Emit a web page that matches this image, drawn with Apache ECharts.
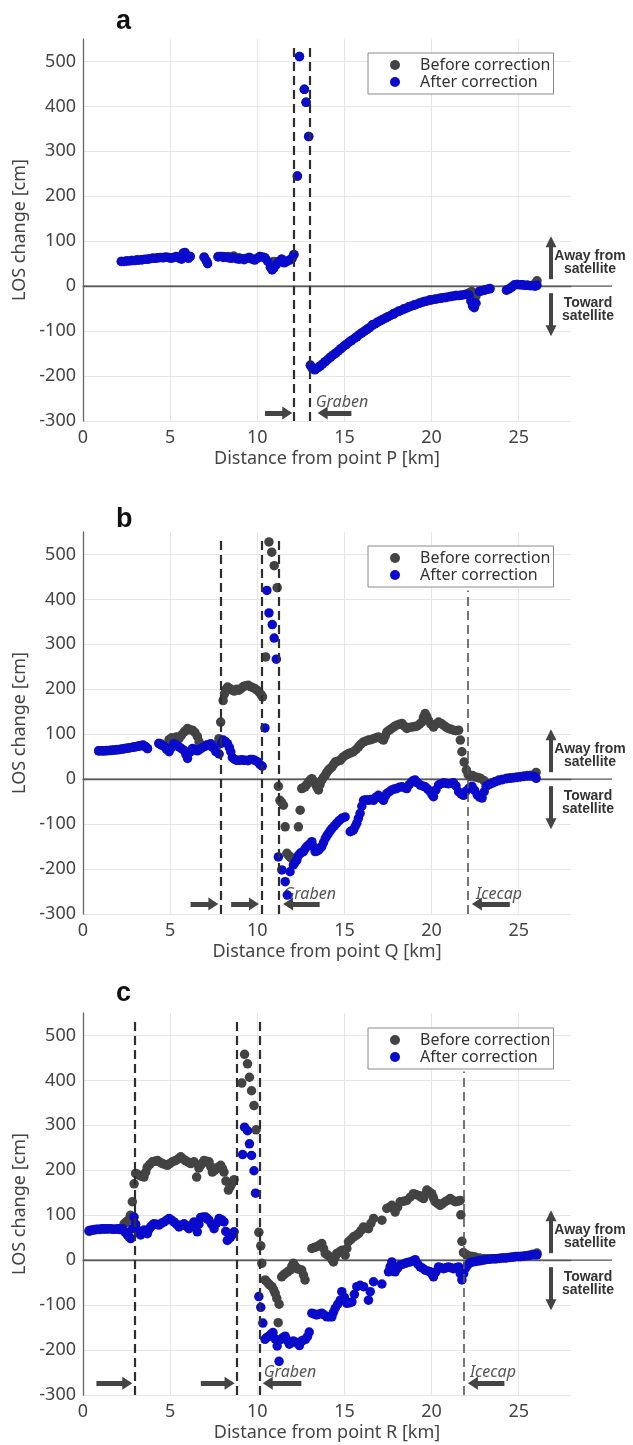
<!DOCTYPE html>
<html>
<head>
<meta charset="utf-8">
<script src="https://cdn.jsdelivr.net/npm/echarts@6/dist/echarts.min.js"></script>
<style>
  html, body { margin: 0; padding: 0; background: #fff; }
  #chart { width: 633px; height: 1445px; }
</style>
</head>
<body>
<div id="chart"></div>
<script>
// LOS change profiles: [distance km, LOS change cm]

// Profile a (from point P)
const aBefore = [
  [2.2,55],[2.5,56],[2.8,57],[3.1,58],[3.4,59],[3.7,60],[4.0,62],[4.3,63],[4.6,64],[4.9,64],[5.2,64],[5.5,63],[5.75,74],[5.95,68],[6.15,66],
  [6.95,65],[7.1,55],
  [7.75,66],[8.05,66],[8.35,66],[8.65,67],[8.95,63],[9.25,61],[9.55,64],[9.85,60],[10.15,66],[10.45,63],[10.75,50],[10.95,55],[11.1,54],[11.4,60],[11.7,56],[12.0,63],[12.1,70],
  [12.3,245],[12.42,511],[12.7,438],[12.8,409],[12.95,333],
  [13.05,-176],[13.3,-185],[13.6,-178],[13.9,-168],[14.2,-158],[14.5,-149],[14.8,-139],[15.1,-130],[15.4,-121],[15.7,-113],[16.0,-104],[16.3,-96],[16.6,-87],[16.9,-80],[17.2,-74],[17.5,-68],[17.8,-62],[18.1,-56],[18.4,-51],[18.7,-46],[19.0,-42],[19.3,-38],[19.6,-34],[19.9,-31],[20.2,-29],[20.5,-27],[20.8,-25],[21.1,-23],[21.4,-21],[21.7,-20],[22.0,-18],[22.2,-14],[22.3,-12],[22.4,-16],[22.55,-22],
  [22.75,-11],[23.05,-8],[23.35,-5],
  [24.3,-8],[24.6,-2],[24.9,4],[25.2,3],[25.5,2],[25.8,2],[25.95,6],[26.05,12]
];
const aAfter = [
  [2.2,55],[2.35,55],[2.5,56],[2.65,56],[2.8,57],[2.95,57],[3.1,58],[3.25,58],[3.4,59],[3.55,60],[3.7,60],[3.85,61],[4.0,62],[4.15,62],[4.3,63],[4.45,64],[4.6,63],[4.75,65],[4.9,64],[5.05,62],[5.2,64],[5.35,66],[5.5,63],[5.65,60],[5.75,72],[5.85,75],[5.95,68],[6.05,62],[6.15,66],
  [6.95,64],[7.05,58],[7.15,50],
  [7.75,65],[7.9,66],[8.05,64],[8.2,65],[8.35,63],[8.5,62],[8.65,64],[8.8,61],[8.95,60],[9.1,61],[9.25,59],[9.4,62],[9.55,64],[9.7,60],[9.85,58],[10.0,62],[10.15,66],[10.3,65],[10.45,62],[10.6,55],[10.75,42],[10.85,36],[10.95,40],[11.1,48],[11.25,55],[11.4,60],[11.55,52],[11.7,55],[11.85,58],[12.0,62],[12.1,70],
  [12.3,245],[12.42,511],[12.7,438],[12.8,409],[12.95,333],
  [13.05,-176],[13.15,-183],[13.3,-186],[13.45,-182],[13.6,-178],[13.75,-173],[13.9,-168],[14.05,-163],[14.2,-158],[14.35,-153],[14.5,-149],[14.65,-144],[14.8,-139],[14.95,-134],[15.1,-130],[15.25,-125],[15.4,-121],[15.55,-117],[15.7,-113],[15.85,-108],[16.0,-104],[16.15,-100],[16.3,-96],[16.45,-92],[16.6,-86],[16.75,-84],[16.9,-80],[17.05,-77],[17.2,-74],[17.35,-71],[17.5,-68],[17.65,-65],[17.8,-62],[17.95,-59],[18.1,-56],[18.25,-54],[18.4,-51],[18.55,-49],[18.7,-46],[18.85,-44],[19.0,-42],[19.15,-40],[19.3,-38],[19.45,-36],[19.6,-34],[19.75,-33],[19.9,-31],[20.05,-30],[20.2,-29],[20.35,-28],[20.5,-27],[20.65,-26],[20.8,-25],[20.95,-24],[21.1,-23],[21.25,-22],[21.4,-21],[21.55,-21],[21.7,-20],[21.85,-19],[22.0,-18],[22.15,-20],[22.25,-33],[22.35,-44],[22.45,-48],[22.55,-38],
  [22.75,-12],[22.9,-10],[23.05,-9],[23.2,-7],[23.35,-6],
  [24.3,-9],[24.45,-6],[24.6,-2],[24.75,3],[24.9,4],[25.05,3],[25.2,3],[25.35,2],[25.5,2],[25.65,1],[25.8,1],[25.95,0],[26.05,2]
];

// Profile b (from point Q)
const bBefore = [
  [0.9,63],[1.05,63],[1.2,63],[1.35,64],[1.5,64],[1.65,65],[1.8,65],[1.95,66],[2.1,66],[2.25,67],[2.4,68],[2.55,69],[2.7,70],[2.85,71],[3.0,72],[3.15,73],[3.3,74],[3.45,75],[3.6,72],[3.7,68],
  [4.36,80],[4.5,78],[4.65,75],[4.8,72],[4.94,88],[5.08,92],[5.22,90],[5.36,94],[5.51,90],[5.65,98],[5.8,105],[5.9,108],[6.0,113],[6.14,110],[6.28,109],[6.42,104],[6.56,95],[6.66,83],[6.8,72],[6.95,74],[7.1,76],[7.25,77],[7.4,72],[7.55,68],[7.7,75],[7.8,90],[7.9,127],[8.04,175],[8.12,190],[8.2,200],[8.3,205],[8.42,202],[8.55,198],[8.68,196],[8.82,200],[8.95,198],[9.08,202],[9.2,206],[9.34,208],[9.48,209],[9.6,206],[9.72,204],[9.85,202],[9.98,198],[10.1,194],[10.22,188],[10.3,183],
  [10.48,272],[10.67,528],[10.83,505],[10.97,475],[11.14,426],
  [11.21,-16],[11.3,-47],[11.4,-52],[11.5,-58],[11.6,-106],[11.7,-165],[11.8,-170],[11.88,-173],[11.98,-176],[12.07,-178],[12.36,-106],[12.46,-69],[12.55,-21],[12.65,-19],[12.74,-17],[12.84,-12],[12.94,-6],[13.04,-2],[13.13,1],[13.22,-4],[13.32,-10],[13.42,-18],[13.51,-24],[13.6,-12],[13.7,-2],[13.8,4],[13.9,9],[13.99,15],[14.08,20],[14.18,24],[14.28,27],[14.38,33],[14.47,38],[14.62,40],[14.76,42],[14.85,46],[14.95,50],[15.1,54],[15.24,57],[15.38,59],[15.52,61],[15.67,66],[15.81,72],[15.95,78],[16.1,83],[16.24,85],[16.38,87],[16.52,88],[16.67,90],[16.81,92],[16.95,94],[17.1,90],[17.24,87],[17.34,96],[17.43,105],[17.58,109],[17.72,113],[17.86,117],[18.0,120],[18.15,122],[18.3,124],[18.44,118],[18.58,113],[18.72,115],[18.87,116],[19.02,117],[19.16,118],[19.3,122],[19.44,127],[19.54,138],[19.63,146],[19.72,140],[19.82,131],[19.96,123],[20.11,116],[20.25,122],[20.4,127],[20.55,124],[20.69,120],[20.83,116],[20.97,113],[21.12,111],[21.26,109],[21.4,108],[21.55,109],[21.65,87],[21.74,61],[21.87,38],[22.0,20],[22.1,10],[22.2,6],[22.35,8],[22.5,5],[22.65,4],[22.8,2],[23.0,-3],[23.15,-10],[23.3,-11],[23.48,-8],[23.65,-5],[23.85,-2],[24.07,0],[24.3,2],[24.5,3],[24.7,4],[24.9,5],[25.1,6],[25.3,7],[25.5,8],[25.7,9],[25.9,10],[26.0,15]
];
const bAfter = [
  [0.9,63],[1.05,63],[1.2,63],[1.35,63],[1.5,64],[1.65,64],[1.8,65],[1.95,65],[2.1,66],[2.25,67],[2.4,68],[2.55,69],[2.7,70],[2.85,71],[3.0,72],[3.15,73],[3.3,75],[3.45,76],[3.6,72],[3.7,68],
  [4.36,79],[4.5,76],[4.65,73],[4.8,66],[4.94,61],[5.08,70],[5.22,79],[5.36,76],[5.51,72],[5.65,68],[5.8,64],[5.9,55],[6.0,46],[6.14,60],[6.28,68],[6.42,66],[6.56,63],[6.7,66],[6.85,70],[7.0,73],[7.14,76],[7.33,79],[7.48,70],[7.62,61],[7.81,56],[7.95,80],[8.04,87],[8.17,84],[8.29,79],[8.4,70],[8.48,61],[8.57,48],[8.7,44],[8.83,42],[8.96,42],[9.1,43],[9.22,42],[9.34,42],[9.47,41],[9.6,44],[9.72,44],[9.86,42],[10.0,39],[10.15,33],[10.28,29],
  [10.44,114],[10.55,420],[10.67,370],[10.86,344],[10.97,314],[11.09,267],
  [11.21,-173],[11.41,-202],[11.6,-228],[11.72,-258],[11.88,-206],[12.07,-191],[12.17,-185],[12.27,-180],[12.36,-170],[12.46,-165],[12.55,-163],[12.65,-161],[12.74,-155],[12.84,-150],[12.98,-145],[13.13,-139],[13.22,-150],[13.32,-161],[13.41,-160],[13.51,-158],[13.6,-154],[13.7,-150],[13.8,-141],[13.9,-132],[13.99,-126],[14.08,-121],[14.18,-115],[14.28,-110],[14.42,-104],[14.56,-98],[14.7,-92],[14.85,-87],[15.04,-84],
  [15.33,-117],[15.42,-115],[15.52,-113],[15.62,-105],[15.71,-98],[15.8,-87],[15.9,-76],[16.0,-60],[16.1,-47],[16.24,-46],[16.38,-47],[16.52,-45],[16.67,-47],[16.81,-40],[16.95,-36],[17.1,-42],[17.24,-47],[17.34,-38],[17.43,-32],[17.58,-28],[17.72,-24],[17.86,-22],[18.0,-21],[18.15,-18],[18.3,-17],[18.44,-19],[18.58,-21],[18.72,-12],[18.87,-6],[18.96,-3],[19.06,-2],[19.2,-8],[19.35,-13],[19.49,-15],[19.63,-17],[19.78,-22],[19.92,-28],[20.02,-34],[20.11,-39],[20.25,-24],[20.4,-13],[20.55,-10],[20.69,-8],[20.83,-9],[20.97,-10],[21.12,-9],[21.26,-8],[21.4,-15],[21.55,-28],[21.7,-33],[21.83,-36],[21.97,-27],[22.15,-20],[22.32,-16],[22.47,-25],[22.62,-35],[22.76,-40],[22.9,-42],[23.02,-28],[23.13,-16],[23.3,-12],[23.48,-9],[23.65,-6],[23.85,-3],[24.07,-1],[24.3,1],[24.5,2],[24.7,3],[24.9,4],[25.1,5],[25.3,6],[25.5,7],[25.7,7],[25.9,6],[26.0,2]
];

// Profile c (from point R)
const cBefore = [
  [0.35,64],[0.5,66],[0.65,67],[0.8,68],[0.95,68],[1.1,69],[1.25,69],[1.4,69],[1.55,70],[1.7,69],[1.85,69],[2.0,69],[2.13,70],[2.26,72],[2.36,81],[2.48,85],[2.6,89],[2.72,100],[2.83,130],[2.93,170],[3.02,193],[3.12,191],[3.21,189],[3.35,187],[3.5,185],[3.6,196],[3.69,207],[3.83,213],[3.98,219],[4.12,220],[4.27,222],[4.41,218],[4.55,215],[4.7,213],[4.84,211],[4.98,215],[5.13,219],[5.27,221],[5.42,224],[5.52,227],[5.61,230],[5.75,225],[5.9,221],[6.04,218],[6.18,215],[6.28,217],[6.37,219],[6.52,185],[6.65,205],[6.75,211],[6.85,216],[6.95,222],[7.09,220],[7.23,219],[7.33,208],[7.42,196],[7.56,200],[7.71,204],[7.8,208],[7.9,211],[8.0,204],[8.09,196],[8.2,176],[8.34,156],[8.44,163],[8.53,170],[8.6,175],[8.67,179],
  [9.11,394],[9.27,458],[9.44,437],[9.55,407],[9.67,377],[9.81,344],[9.93,290],
  [10.09,62],[10.2,32],[10.26,-7],[10.45,-44],[10.55,-48],[10.64,-52],[10.74,-56],[10.84,-59],[10.94,-66],[11.03,-74],[11.12,-85],[11.2,-139],[11.25,-98],[11.4,-37],[11.5,-33],[11.6,-30],[11.74,-26],[11.88,-22],[11.98,-14],[12.07,-7],[12.17,-13],[12.27,-19],[12.4,-20],[12.55,-22],[12.65,-33],[12.74,-44],
  [13.13,26],[13.27,28],[13.41,30],[13.55,33],[13.7,37],[13.8,26],[13.9,15],[14.04,11],[14.18,7],[14.28,2],[14.37,-4],[14.47,6],[14.56,15],[14.7,18],[14.85,22],[14.95,16],[15.04,11],[15.14,26],[15.23,41],[15.38,46],[15.52,52],[15.67,55],[15.81,59],[15.95,66],[16.1,74],[16.24,72],[16.38,70],[16.52,82],[16.67,93],[17.15,89],[17.43,115],[17.58,118],[17.72,122],[17.81,115],[17.91,107],[18.05,118],[18.2,130],[18.39,131],[18.58,133],[18.77,140],[18.96,148],[19.1,146],[19.25,144],[19.4,140],[19.54,137],[19.63,146],[19.73,156],[19.87,152],[20.01,148],[20.1,139],[20.2,130],[20.35,126],[20.49,122],[20.63,126],[20.78,130],[20.92,133],[21.07,137],[21.22,133],[21.36,130],[21.5,131],[21.64,133],[21.68,101],[21.74,42],[21.83,17],[22.0,12],[22.2,9],[22.35,8],[22.5,7],[22.75,5],[23.0,3],[23.2,3],[23.4,3],[23.6,3],[23.8,4],[24.0,5],[24.2,5],[24.4,6],[24.6,7],[24.8,8],[25.0,8],[25.2,9],[25.4,10],[25.6,11],[25.8,13],[26.05,16]
];
const cAfter = [
  [0.35,66],[0.5,67],[0.65,68],[0.8,69],[0.95,69],[1.1,70],[1.25,70],[1.4,70],[1.55,70],[1.7,69],[1.85,69],[2.0,70],[2.13,68],[2.26,70],[2.4,63],[2.54,56],[2.64,52],[2.74,48],[2.84,70],[2.93,96],[3.02,80],[3.12,67],[3.21,60],[3.31,56],[3.4,62],[3.5,67],[3.6,63],[3.69,59],[3.78,68],[3.88,74],[3.98,78],[4.07,81],[4.22,80],[4.36,78],[4.5,82],[4.65,85],[4.8,89],[4.94,93],[5.08,89],[5.22,85],[5.36,80],[5.51,74],[5.65,78],[5.8,81],[5.94,75],[6.08,70],[6.22,78],[6.37,85],[6.47,74],[6.56,63],[6.65,80],[6.75,95],[6.9,96],[7.04,96],[7.14,92],[7.23,89],[7.38,80],[7.52,70],[7.66,82],[7.81,93],[7.95,90],[8.09,85],[8.19,64],[8.28,44],[8.38,48],[8.48,52],[8.58,58],[8.67,63],
  [9.16,235],[9.27,296],[9.44,288],[9.55,259],[9.67,233],[9.81,199],[9.9,149],
  [10.09,-81],[10.2,-105],[10.32,-140],[10.44,-176],[10.55,-172],[10.67,-169],[10.78,-165],[10.9,-161],[11.02,-175],[11.14,-191],[11.25,-225],[11.37,-176],[11.48,-172],[11.6,-169],[11.72,-178],[11.84,-187],[11.95,-183],[12.07,-180],[12.18,-182],[12.3,-184],[12.42,-190],[12.53,-180],[12.65,-178],[12.77,-176],[12.88,-170],[12.98,-160],
  [13.13,-118],[13.27,-120],[13.41,-122],[13.55,-120],[13.7,-118],[13.85,-122],[13.99,-126],[14.13,-126],[14.28,-126],[14.37,-116],[14.47,-107],[14.62,-98],[14.76,-89],[14.85,-70],[15.0,-83],[15.14,-96],[15.28,-95],[15.43,-93],[15.57,-76],[15.71,-59],[15.9,-56],[16.1,-59],[16.38,-89],[16.48,-70],[16.67,-48],[17.15,-53],[17.53,-26],[17.62,-15],[17.72,-4],[17.81,-15],[17.91,-26],[18.05,-18],[18.2,-11],[18.35,-9],[18.49,-7],[18.63,-5],[18.77,-4],[18.92,-2],[19.06,1],[19.2,-8],[19.35,-15],[19.49,-18],[19.63,-22],[19.78,-24],[19.92,-26],[20.02,-31],[20.11,-37],[20.25,-26],[20.4,-15],[20.55,-17],[20.69,-19],[20.83,-17],[20.97,-15],[21.12,-17],[21.26,-19],[21.4,-17],[21.55,-15],[21.65,-30],[21.74,-44],[21.84,-30],[21.93,-19],[22.05,-12],[22.2,-6],[22.35,-4],[22.5,-3],[22.65,-2],[22.8,-1],[22.95,0],[23.1,1],[23.3,2],[23.5,3],[23.7,3],[23.9,4],[24.1,5],[24.3,5],[24.5,6],[24.7,7],[24.9,8],[25.1,8],[25.3,9],[25.5,10],[25.7,11],[25.9,12],[26.05,12]
];

// Boundaries (km) and axis ticks
const aBoundaryKm = [12.1, 13.0];
const bBoundaryKm = [7.9, 10.27, 11.25];
const cBoundaryKm = [2.97, 8.8, 10.15];
const bIcecapKm = 22.1;
const cIcecapKm = 21.85;
const xTicks = [0, 5, 10, 15, 20, 25];
const yTicks = [-300, -200, -100, 0, 100, 200, 300, 400, 500];

const SERIES_NAMES = ['Before correction', 'After correction'];
const GRAY = '#434343';
const BLUE = '#0a0acc';

const panels = [
  { letter: 'a', point: 'P', before: aBefore, after: aAfter, bounds: aBoundaryKm, icecap: null,
    arrows: [[10.44, 12.0], [15.4, 13.47]], arrowCm: -282,
    notes: [['Graben', 13.35, -258]], top: 39, legendTop: 53, letterY: 22 },
  { letter: 'b', point: 'Q', before: bBefore, after: bAfter, bounds: bBoundaryKm, icecap: bIcecapKm,
    arrows: [[6.17, 7.76], [8.5, 10.09], [13.58, 11.49], [24.49, 22.32]], arrowCm: -278,
    notes: [['Graben', 11.5, -256], ['Icecap', 22.55, -256]], top: 532, legendTop: 546, letterY: 520 },
  { letter: 'c', point: 'R', before: cBefore, after: cAfter, bounds: cBoundaryKm, icecap: cIcecapKm,
    arrows: [[0.77, 2.82], [6.76, 8.69], [12.53, 10.32], [24.18, 22.09]], arrowCm: -274,
    notes: [['Graben', 10.37, -250], ['Icecap', 22.2, -250]], top: 1013, legendTop: 1028, letterY: 994 }
];

const FONT = '"Noto Sans", "DejaVu Sans", sans-serif';
const chart = echarts.init(document.getElementById('chart'), null, { renderer: 'canvas' });

const grids = [], xAxes = [], yAxes = [], series = [], legends = [];

panels.forEach((p, i) => {
  grids.push({ left: 83, width: 488, top: p.top, height: 382 });
  xAxes.push({
    type: 'value', gridIndex: i, min: 0, max: 28, interval: 5,
    name: 'Distance from point ' + p.point + ' [km]', nameLocation: 'middle', nameGap: 29,
    nameTextStyle: { fontFamily: FONT, fontSize: 18, color: '#444' },
    axisLine: { lineStyle: { color: '#666', width: 1.3 } },
    axisTick: { show: false, customValues: xTicks },
    axisLabel: { fontFamily: FONT, fontSize: 18, color: '#444', margin: 8, customValues: xTicks },
    splitLine: { show: true, lineStyle: { color: '#e6e6e6', width: 1 } }
  });
  yAxes.push({
    type: 'value', gridIndex: i, min: -300, max: 550, interval: 100,
    name: 'LOS change [cm]', nameLocation: 'middle', nameGap: 45, nameRotate: 90,
    nameTextStyle: { fontFamily: FONT, fontSize: 18, color: '#444' },
    axisLine: { show: true, lineStyle: { color: '#666', width: 1.3 } },
    axisTick: { show: false, customValues: yTicks },
    axisLabel: { fontFamily: FONT, fontSize: 18, color: '#444', margin: 7, customValues: yTicks },
    splitLine: { show: true, lineStyle: { color: '#e6e6e6', width: 1 } }
  });

  const markData = [];
  p.bounds.forEach(km => {
    markData.push([{ coord: [km, -300] }, { coord: [km, 540],
      lineStyle: { color: '#2e2e2e', width: 2.2, type: [9, 5] } }]);
  });
  if (p.icecap !== null) {
    markData.push([{ coord: [p.icecap, -300] }, { coord: [p.icecap, 420],
      lineStyle: { color: '#555', width: 1.6, type: [9, 5] } }]);
  }
  p.arrows.forEach(([tail, tip]) => {
    const back = tip > tail ? -0.28 : 0.28;
    markData.push([{ coord: [tail, p.arrowCm], symbol: 'none' },
      { coord: [tip + back, p.arrowCm], symbol: 'triangle', symbolSize: [13, 10],
        lineStyle: { color: '#444', width: 5, type: 'solid' }, itemStyle: { color: '#444' } }]);
  });

  series.push({
    name: SERIES_NAMES[0], type: 'scatter', xAxisIndex: i, yAxisIndex: i,
    data: p.before, symbol: 'circle', symbolSize: 9.5,
    itemStyle: { color: GRAY, opacity: 1 }, z: 3, animation: false,
    markLine: { silent: true, animation: false, symbol: ['none', 'none'],
      label: { show: false }, emphasis: { disabled: true }, data: markData }
  });
  series.push({
    name: SERIES_NAMES[1], type: 'scatter', xAxisIndex: i, yAxisIndex: i,
    data: p.after, symbol: 'circle', symbolSize: 9.5,
    itemStyle: { color: BLUE, opacity: 1 }, z: 4, animation: false
  });

  legends.push({
    orient: 'vertical', left: 368, top: p.legendTop,
    data: SERIES_NAMES.map(n => ({ name: n, icon: 'circle' })),
    itemWidth: 10, itemHeight: 10, itemGap: 1,
    padding: [4, 3, 4, 22],
    borderColor: '#8a8a8a', borderWidth: 1, borderRadius: 0, backgroundColor: '#fff',
    textStyle: { fontFamily: FONT, fontSize: 16, color: '#333', padding: [0, 0, 0, 15] },
    selectedMode: false
  });
});

chart.setOption({
  backgroundColor: '#fff',
  animation: false,
  grid: grids, xAxis: xAxes, yAxis: yAxes, legend: legends, series: series
});

// Annotations placed through the grid's own coordinate conversion
function annotate() {
  const g = [];
  panels.forEach((p, i) => {
    const toPx = (km, cm) => chart.convertToPixel({ gridIndex: i }, [km, cm]);
    const [x0, y0] = toPx(0, 0);

    // zero reference line, extended past the plot towards the side labels
    g.push({ type: 'line', z: 1, silent: true,
      shape: { x1: x0, y1: y0, x2: 612, y2: y0 },
      style: { stroke: '#555', lineWidth: 1.3 } });

    // panel letter
    g.push({ type: 'text', z: 5, silent: true,
      style: { text: p.letter, x: 116, y: p.letterY, fill: '#111',
        font: 'bold 27px "Liberation Sans", Arial, sans-serif', verticalAlign: 'middle' } });

    // zone labels along the bottom
    p.notes.forEach(([txt, km, cm]) => {
      const [tx, ty] = toPx(km, cm);
      g.push({ type: 'text', z: 1, silent: true,
        style: { text: txt, x: tx, y: ty, fill: '#555',
          font: 'italic 16px ' + FONT, align: 'left', verticalAlign: 'middle' } });
    });

    // direction key to the right of the plot
    const ax = 551;
    g.push({ type: 'line', z: 5, silent: true,
      shape: { x1: ax, y1: y0 - 7, x2: ax, y2: y0 - 41 },
      style: { stroke: '#444', lineWidth: 4 } });
    g.push({ type: 'polygon', z: 5, silent: true,
      shape: { points: [[ax, y0 - 50], [ax - 5.5, y0 - 39], [ax + 5.5, y0 - 39]] },
      style: { fill: '#444' } });
    g.push({ type: 'line', z: 5, silent: true,
      shape: { x1: ax, y1: y0 + 7, x2: ax, y2: y0 + 41 },
      style: { stroke: '#444', lineWidth: 4 } });
    g.push({ type: 'polygon', z: 5, silent: true,
      shape: { points: [[ax, y0 + 50], [ax - 5.5, y0 + 39], [ax + 5.5, y0 + 39]] },
      style: { fill: '#444' } });
    g.push({ type: 'text', z: 5, silent: true,
      style: { text: 'Away from\nsatellite', x: 590, y: y0 - 23.5, fill: '#333',
        font: 'bold 14px "Liberation Sans", Arial, sans-serif', lineHeight: 13,
        align: 'center', verticalAlign: 'middle' } });
    g.push({ type: 'text', z: 5, silent: true,
      style: { text: 'Toward\nsatellite', x: 588, y: y0 + 23.5, fill: '#333',
        font: 'bold 14px "Liberation Sans", Arial, sans-serif', lineHeight: 13,
        align: 'center', verticalAlign: 'middle' } });
  });
  chart.setOption({ graphic: g });
}
annotate();
</script>
</body>
</html>
